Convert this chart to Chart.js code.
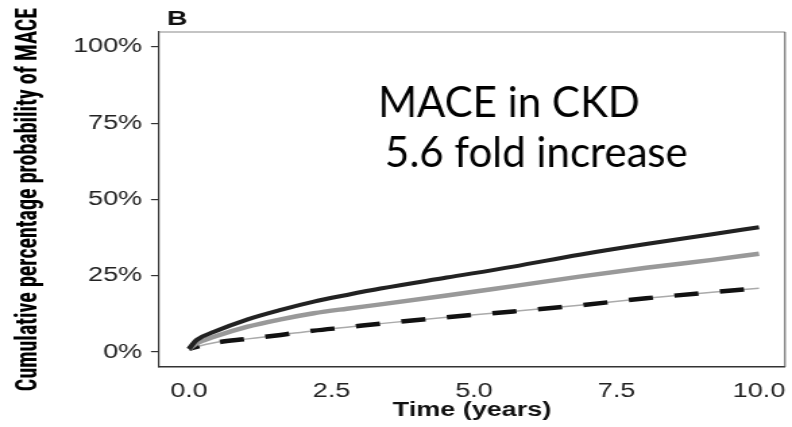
<!DOCTYPE html>
<html>
<head>
<meta charset="utf-8">
<script src="https://cdn.jsdelivr.net/npm/chart.js@4/dist/chart.umd.min.js"></script>
<style>
  html, body { margin: 0; padding: 0; background: #fff; overflow: hidden; }
  #wrap { width: 587px; height: 427px; transform-origin: 0 0; }
</style>
</head>
<body>
<div id="wrap"><canvas id="c" width="587" height="427"></canvas></div>
<script>
// ---- data ----
const timeYears   = [0, 0.13, 0.44, 1.03, 1.61, 2.19, 2.77, 3.36, 4.52, 5.69, 6.85, 8.02, 9.18, 10.0];
const seriesBlack = [1.0, 3.9, 6.6, 10.7, 13.8, 16.5, 18.7, 20.8, 24.4, 28.0, 31.9, 35.4, 38.6, 40.9];
const seriesGray  = [1.0, 2.8, 5.0, 8.3, 10.7, 12.7, 14.2, 15.6, 18.5, 21.6, 24.7, 27.6, 30.2, 32.2];
const seriesDash  = [1.0, 1.7, 3.0, 4.3, 5.6, 7.0, 8.1, 9.3, 11.4, 13.3, 15.3, 17.6, 19.6, 20.9];
const xTickValues = [0, 2.5, 5, 7.5, 10];
const xTickLabels = ['0.0', '2.5', '5.0', '7.5', '10.0'];
const yTickValues = [0, 25, 50, 75, 100];
const yTickLabels = ['0%', '25%', '50%', '75%', '100%'];
const panelLabel = 'B';
const annotationLines = ['MACE in CKD', '5.6 fold increase'];
const xTitle = 'Time (years)';
const yTitle = 'Cumulative percentage probability of MACE';

// the reference figure is horizontally stretched; the canvas is drawn narrower and stretched back
const W = 587;
const S = 792 / W;
document.getElementById('wrap').style.transform = 'scaleX(' + S + ')';

const pts = (ys) => timeYears.map((t, i) => ({ x: t, y: ys[i] }));

const stylePlugin = {
  id: 'stylePlugin',
  afterDraw(chart) {
    const ctx = chart.ctx;
    const a = chart.chartArea;
    ctx.save();
    // top and right frame lines
    ctx.strokeStyle = '#8a8a8a';
    ctx.lineWidth = 1.2;
    ctx.beginPath();
    ctx.moveTo(a.left, a.top);
    ctx.lineTo(a.right, a.top);
    ctx.stroke();
    ctx.strokeStyle = '#555';
    ctx.lineWidth = 1;
    ctx.beginPath();
    ctx.moveTo(a.right, a.top);
    ctx.lineTo(a.right, a.bottom);
    ctx.stroke();
    // panel label
    ctx.fillStyle = '#111';
    ctx.font = 'bold 21px "Liberation Sans", Arial, sans-serif';
    ctx.textBaseline = 'alphabetic';
    ctx.fillText(panelLabel, a.left + 6, 25);
    // annotation text (not stretched in the reference)
    ctx.scale(1 / S, 1);
    ctx.fillStyle = '#000';
    ctx.font = '42px Lato, "Open Sans", sans-serif';
    ctx.fillText(annotationLines[0], 378, 117);
    ctx.fillText(annotationLines[1], 385, 167);
    ctx.restore();
  }
};

new Chart(document.getElementById('c'), {
  type: 'line',
  data: {
    datasets: [
      { data: pts(seriesBlack), borderColor: '#222', borderWidth: 4 },
      { data: pts(seriesGray), borderColor: '#999', borderWidth: 4.5 },
      { data: pts(seriesDash), borderColor: '#111', borderWidth: 4.5, borderDash: [18, 16], borderDashOffset: 10 },
      { data: pts(seriesDash), borderColor: '#aaa', borderWidth: 1.5 }
    ]
  },
  options: {
    responsive: false,
    animation: false,
    events: [],
    layout: { padding: { top: 32, right: W - 785 / S, bottom: 0, left: 0 } },
    elements: {
      point: { radius: 0 },
      line: { cubicInterpolationMode: 'monotone', fill: false, borderCapStyle: 'butt' }
    },
    plugins: { legend: { display: false }, tooltip: { enabled: false } },
    scales: {
      x: {
        type: 'linear',
        min: -0.526,
        max: 10.456,
        afterBuildTicks: (s) => { s.ticks = xTickValues.map(v => ({ value: v })); },
        afterFit: (s) => { s.height = 60; },
        ticks: {
          autoSkip: false, maxRotation: 0, padding: 4, color: '#222',
          font: { family: '"Liberation Sans", Arial, sans-serif', size: 20 },
          callback: (v) => xTickLabels[xTickValues.indexOf(v)]
        },
        grid: { display: false },
        border: { display: true, color: '#333', width: 1.5 },
        title: {
          display: true, text: xTitle, color: '#111',
          font: { family: '"Liberation Sans", Arial, sans-serif', size: 20, weight: 'bold' },
          padding: { top: 0, bottom: 5 }
        }
      },
      y: {
        type: 'linear',
        min: -4.92,
        max: 104.9,
        afterBuildTicks: (s) => { s.ticks = yTickValues.map(v => ({ value: v })); },
        afterFit: (s) => { s.width = 159 / S; },
        ticks: {
          autoSkip: false, padding: 6.5, color: '#222',
          font: { family: '"Liberation Sans", Arial, sans-serif', size: 20 },
          callback: (v) => yTickLabels[yTickValues.indexOf(v)]
        },
        grid: { display: true, drawOnChartArea: false, drawTicks: true, tickLength: 6, color: '#333', lineWidth: 1.2 },
        border: { display: true, color: '#333', width: 1.2 },
        title: {
          display: true, text: yTitle, color: '#000',
          font: { family: '"Liberation Sans Narrow", "Roboto Condensed", "Liberation Sans", sans-serif', size: 22, weight: 'bold' },
          padding: { top: 8, bottom: 0 }
        }
      }
    }
  },
  plugins: [stylePlugin]
});
</script>
</body>
</html>
